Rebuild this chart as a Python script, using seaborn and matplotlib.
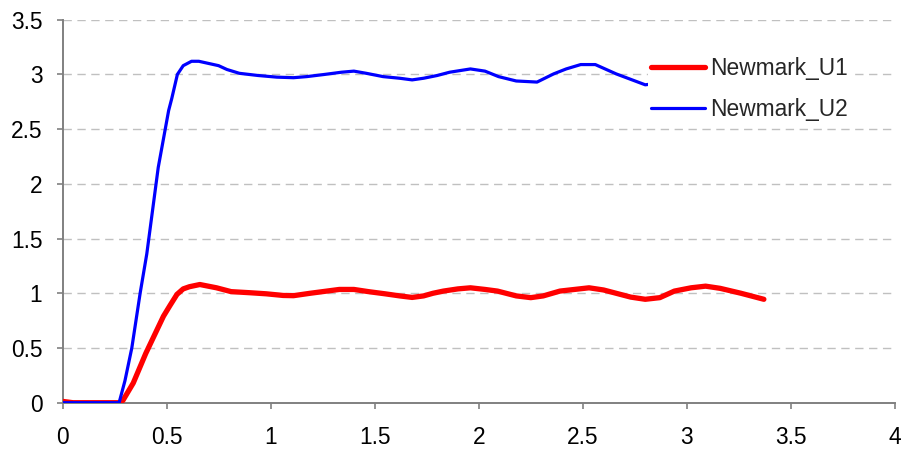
import matplotlib
matplotlib.use("Agg")
import matplotlib.pyplot as plt
import seaborn as sns

# Displacement histories from the Newmark integration
t_u1 = [0.0, 0.05, 0.10, 0.272, 0.29, 0.34, 0.40, 0.45, 0.485, 0.517, 0.55, 0.58,
        0.61, 0.66, 0.74, 0.81, 0.90, 0.98, 1.06, 1.11, 1.19, 1.27, 1.33, 1.40,
        1.47, 1.55, 1.62, 1.68, 1.735, 1.78, 1.83, 1.90, 1.96, 2.03, 2.09, 2.18,
        2.25, 2.31, 2.39, 2.46, 2.53, 2.60, 2.67, 2.73, 2.80, 2.87, 2.94, 3.02,
        3.09, 3.16, 3.26, 3.37]
u1 = [0.012, 0.0, 0.0, 0.0, 0.02, 0.18, 0.45, 0.65, 0.79, 0.89, 0.99, 1.04,
      1.06, 1.08, 1.05, 1.015, 1.005, 0.995, 0.98, 0.978, 1.0, 1.02, 1.035, 1.035,
      1.015, 0.995, 0.976, 0.962, 0.976, 1.0, 1.02, 1.04, 1.05, 1.035, 1.02, 0.976,
      0.96, 0.976, 1.02, 1.035, 1.05, 1.03, 0.995, 0.965, 0.945, 0.96, 1.02, 1.05,
      1.065, 1.045, 1.0, 0.945]

t_u2 = [0.0, 0.272, 0.30, 0.333, 0.373, 0.405, 0.46, 0.51, 0.525, 0.552, 0.58,
        0.62, 0.655, 0.75, 0.79, 0.85, 0.94, 1.03, 1.11, 1.174, 1.26, 1.34, 1.40,
        1.46, 1.54, 1.62, 1.68, 1.735, 1.80, 1.86, 1.96, 2.03, 2.095, 2.18, 2.28,
        2.36, 2.42, 2.49, 2.56, 2.66, 2.80, 2.86, 2.95, 3.08, 3.20, 3.37]
u2 = [0.0, 0.0, 0.20, 0.50, 1.0, 1.36, 2.15, 2.67, 2.78, 3.0, 3.08,
      3.12, 3.12, 3.08, 3.045, 3.01, 2.99, 2.975, 2.97, 2.98, 3.0, 3.02, 3.03,
      3.01, 2.98, 2.965, 2.95, 2.965, 2.99, 3.02, 3.05, 3.03, 2.98, 2.94, 2.93,
      3.005, 3.05, 3.09, 3.09, 3.005, 2.905, 2.92, 3.0, 3.08, 3.04, 2.96]

x_ticks = [0, 0.5, 1, 1.5, 2, 2.5, 3, 3.5, 4]
x_labels = ["0", "0.5", "1", "1.5", "2", "2.5", "3", "3.5", "4"]
y_ticks = [0, 0.5, 1, 1.5, 2, 2.5, 3, 3.5]
y_labels = ["0", "0.5", "1", "1.5", "2", "2.5", "3", "3.5"]

sns.set_style("white")
plt.rcParams["font.family"] = ["Liberation Sans", "DejaVu Sans"]

W, H = 902, 451
fig = plt.figure(figsize=(W / 100, H / 100), dpi=100)
ax = fig.add_axes([62.5 / W, 1 - 402.7 / H, (895 - 62.5) / W, (402.7 - 19.7) / H])

sns.lineplot(x=t_u1, y=u1, ax=ax, color="#ff0000", lw=3.8, label="Newmark_U1",
             sort=False, estimator=None, solid_capstyle="round", zorder=3)
sns.lineplot(x=t_u2, y=u2, ax=ax, color="#0000ff", lw=2.3, label="Newmark_U2",
             sort=False, estimator=None, solid_capstyle="round", zorder=4)

ax.set_xlim(0, 4)
ax.set_ylim(0, 3.5)
ax.set_xticks(x_ticks)
ax.set_xticklabels(x_labels)
ax.set_yticks(y_ticks)
ax.set_yticklabels(y_labels)
ax.set_xlabel("")
ax.set_ylabel("")

ax.yaxis.grid(True, linestyle=(0, (6, 4)), color="#c0c0c0", lw=1.0)
ax.xaxis.grid(False)
ax.set_axisbelow(True)

for side in ("top", "right"):
    ax.spines[side].set_visible(False)
for side in ("left", "bottom"):
    ax.spines[side].set_color("#808080")
    ax.spines[side].set_linewidth(1.4)

ax.tick_params(axis="both", direction="out", length=4.5, width=1.2,
               color="#808080", labelsize=16.4, labelcolor="black")
ax.tick_params(axis="x", pad=12, bottom=True)
ax.tick_params(axis="y", pad=10, left=True)

leg = ax.legend(loc="upper left", bbox_to_anchor=(648 / W, 1 - 54 / H),
                bbox_transform=fig.transFigure, borderaxespad=0, borderpad=0.15,
                frameon=True, facecolor="white", edgecolor="none", framealpha=1,
                fancybox=False, handlelength=2.37, handletextpad=0.22,
                labelspacing=0.78, fontsize=16.4)

fig.savefig("out.png", dpi=100)
